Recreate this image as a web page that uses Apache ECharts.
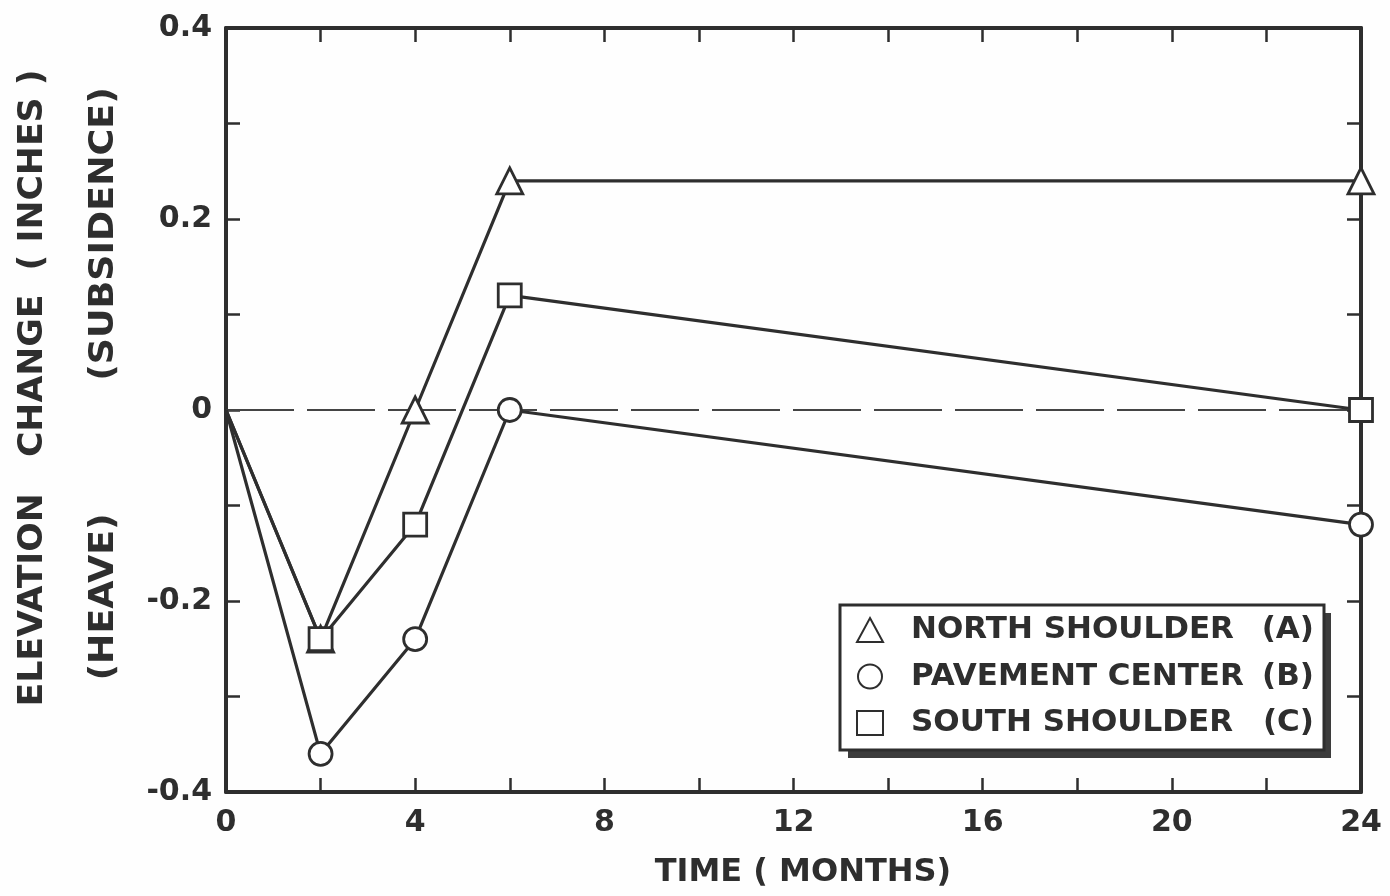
<!DOCTYPE html>
<html>
<head>
<meta charset="utf-8">
<script src="https://cdn.jsdelivr.net/npm/echarts@6/dist/echarts.min.js"></script>
<style>
html,body{margin:0;padding:0;background:#fefefe;}
#chart{width:1390px;height:896px;}
</style>
</head>
<body>
<div id="chart"></div>
<script>
// ---- data ----
var months = [0, 2, 4, 6, 24];
var northShoulder = [0, -0.24, 0, 0.24, 0.24];
var pavementCenter = [0, -0.36, -0.24, 0, -0.12];
var southShoulder = [0, -0.24, -0.12, 0.12, 0];
var zeroLineX = [0, 24];
var zeroLineY = [0, 0];
var seriesNames = ['NORTH SHOULDER', 'PAVEMENT CENTER', 'SOUTH SHOULDER'];
var seriesTags = ['(A)', '(B)', '(C)'];
var xTicks = {min: 0, max: 24, interval: 4};
var yTicks = {min: -0.4, max: 0.4, interval: 0.2};
var xTitle = 'TIME ( MONTHS)';
var yTitle = 'ELEVATION   CHANGE  ( INCHES )';
var yUpNote = '(SUBSIDENCE)';
var yDownNote = '(HEAVE)';

var INK = '#2e2e2e';
var FONT = 'DejaVu Sans';

function pts(vals) {
  return months.map(function (m, i) {
    var d = {value: [m, vals[i]]};
    if (i === 0) d.symbol = 'none';
    return d;
  });
}

function lineSeries(name, vals, symbol) {
  return {
    name: name,
    type: 'line',
    data: pts(vals),
    symbol: symbol,
    symbolSize: symbol === 'triangle' ? 26 : 23,
    showAllSymbol: true,
    clip: false,
    lineStyle: {color: INK, width: 3.2},
    itemStyle: {color: '#fff', borderColor: INK, borderWidth: 2.8},
    emphasis: {disabled: true},
    z: 3
  };
}

var tickStyle = {show: true, inside: true, length: 14, lineStyle: {color: INK, width: 2.5}};
var minorStyle = {show: true, splitNumber: 2, length: 14, lineStyle: {color: INK, width: 2.5}};
var axisLineStyle = {show: true, onZero: false, lineStyle: {color: INK, width: 4}};
var labelStyle = {color: INK, fontFamily: FONT, fontWeight: 'bold', fontSize: 30};

var chart = echarts.init(document.getElementById('chart'));
chart.setOption({
  backgroundColor: '#fefefe',
  animation: false,
  grid: {left: 226, right: 29, top: 28, bottom: 104},
  xAxis: [{
    type: 'value', min: xTicks.min, max: xTicks.max, interval: xTicks.interval,
    position: 'bottom',
    axisLine: axisLineStyle, axisTick: tickStyle, minorTick: minorStyle,
    splitLine: {show: false}, minorSplitLine: {show: false},
    axisLabel: Object.assign({margin: 16}, labelStyle)
  }, {
    type: 'value', min: xTicks.min, max: xTicks.max, interval: xTicks.interval,
    position: 'top',
    axisLine: axisLineStyle, axisTick: tickStyle, minorTick: minorStyle,
    splitLine: {show: false}, axisLabel: {show: false}
  }],
  yAxis: [{
    type: 'value', min: yTicks.min, max: yTicks.max, interval: yTicks.interval,
    position: 'left',
    axisLine: axisLineStyle, axisTick: tickStyle, minorTick: minorStyle,
    splitLine: {show: false},
    axisLabel: Object.assign({margin: 14}, labelStyle)
  }, {
    type: 'value', min: yTicks.min, max: yTicks.max, interval: yTicks.interval,
    position: 'right',
    axisLine: axisLineStyle, axisTick: tickStyle, minorTick: minorStyle,
    splitLine: {show: false}, axisLabel: {show: false}
  }],
  legend: {
    orient: 'vertical',
    left: 840, top: 605,
    padding: [8, 10, 10, 16],
    itemGap: 12.5,
    itemWidth: 26, itemHeight: 24,
    backgroundColor: '#fff',
    borderColor: INK, borderWidth: 3,
    selectedMode: false,
    z: 10,
    data: [
      {name: seriesNames[0], icon: 'triangle'},
      {name: seriesNames[1], icon: 'circle'},
      {name: seriesNames[2], icon: 'rect'}
    ],
    formatter: function (n) {
      var i = seriesNames.indexOf(n);
      return '{s| }{n|' + n + '}{t|' + seriesTags[i] + '}';
    },
    textStyle: {
      color: INK, fontFamily: FONT, fontWeight: 'bold', fontSize: 31, lineHeight: 34,
      rich: {
        s: {fontFamily: FONT, fontSize: 31, lineHeight: 34, width: 23},
        n: {fontFamily: FONT, fontWeight: 'bold', fontSize: 31, lineHeight: 34, color: INK, width: 350},
        t: {fontFamily: FONT, fontWeight: 'bold', fontSize: 31, lineHeight: 34, color: INK, width: 53, align: 'right'}
      }
    }
  },
  graphic: [{
    type: 'rect', z: 1,
    shape: {x: 848, y: 613, width: 483, height: 145},
    style: {fill: '#3c3c3c'}
  }, {
    type: 'text', x: 33, y: 388, rotation: Math.PI / 2, scaleX: 1.02,
    style: {text: yTitle, fill: INK, font: 'bold 34px "DejaVu Sans"', textAlign: 'center', textVerticalAlign: 'middle'}
  }, {
    type: 'text', x: 104, y: 234, rotation: Math.PI / 2, scaleX: 1.07,
    style: {text: yUpNote, fill: INK, font: 'bold 34px "DejaVu Sans"', textAlign: 'center', textVerticalAlign: 'middle'}
  }, {
    type: 'text', x: 104, y: 597, rotation: Math.PI / 2, scaleX: 1.07,
    style: {text: yDownNote, fill: INK, font: 'bold 34px "DejaVu Sans"', textAlign: 'center', textVerticalAlign: 'middle'}
  }, {
    type: 'text', x: 803, y: 873,
    style: {text: xTitle, fill: INK, font: 'bold 32px "DejaVu Sans"', textAlign: 'center', textVerticalAlign: 'middle'}
  }],
  series: [
    lineSeries(seriesNames[0], northShoulder, 'triangle'),
    lineSeries(seriesNames[1], pavementCenter, 'circle'),
    lineSeries(seriesNames[2], southShoulder, 'rect'),
    {
      type: 'line', name: 'zero',
      data: zeroLineX.map(function (x, i) { return [x, zeroLineY[i]]; }),
      symbol: 'none', silent: true,
      lineStyle: {color: '#444', width: 2, type: [68, 13]},
      z: 1
    }
  ]
});
</script>
</body>
</html>
